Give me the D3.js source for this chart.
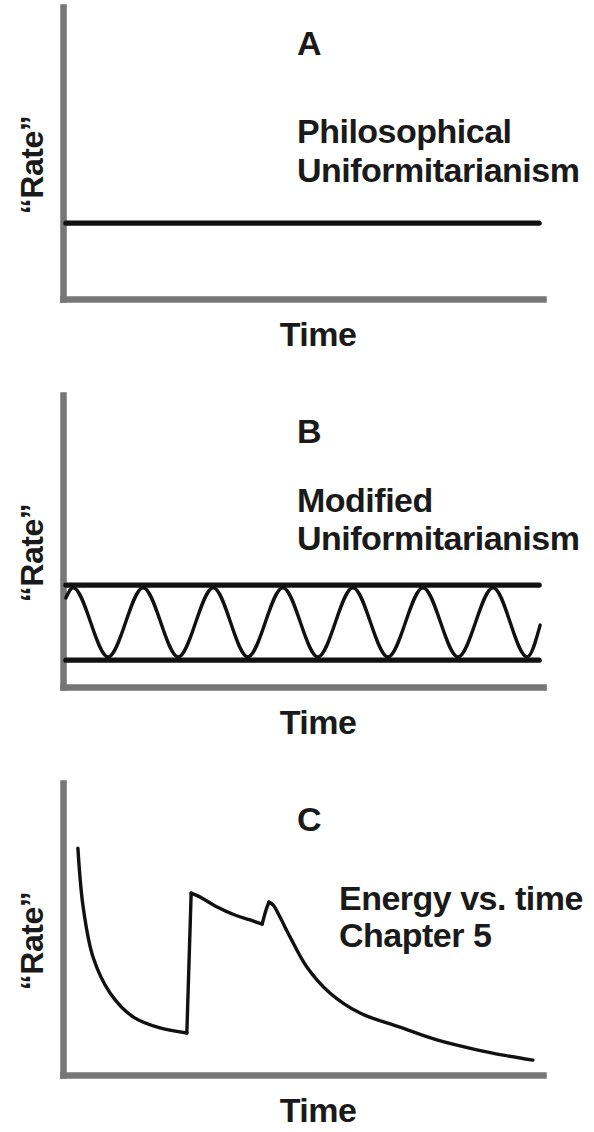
<!DOCTYPE html>
<meta charset="utf-8">
<style>

body {
  margin: 0;
  background: #fff;
}

text {
  font-family: "Liberation Sans", Arial, Helvetica, sans-serif;
  font-weight: bold;
  font-size: 34px;
  letter-spacing: -0.5px;
  fill: #1a1a1a;
}

.axis .domain {
  stroke: #767676;
  stroke-width: 6.5px;
  stroke-linecap: square;
}

.line {
  fill: none;
  stroke: #111;
  stroke-linejoin: round;
  stroke-linecap: round;
}

</style>
<body>
<script src="https://d3js.org/d3.v7.min.js"></script>
<script>

// panel labels and captions
const panelLetters = ["A", "B", "C"];
const panelCaptions = [
  ["Philosophical", "Uniformitarianism"],
  ["Modified", "Uniformitarianism"],
  ["Energy vs. time", "Chapter 5"]
];
const xLabel = "Time";
const yLabel = "\u201CRate\u201D";

// A: constant rate
const flatRate = [{t: 0.6, r: 26}, {t: 99.2, r: 26}];

// B: oscillation inside two bounds
const bandUpper = [{t: 0.6, r: 34.9}, {t: 99.2, r: 34.9}];
const bandLower = [{t: 0.6, r: 9.2}, {t: 99.2, r: 9.2}];
const oscillation = [
  {t: 0.6, r: 30.5}, {t: 2.1, r: 34}, {t: 9.4, r: 10.3}, {t: 16.7, r: 34},
  {t: 24.0, r: 10.3}, {t: 31.3, r: 34}, {t: 38.5, r: 10.3}, {t: 45.8, r: 34},
  {t: 53.1, r: 10.3}, {t: 60.4, r: 34}, {t: 67.7, r: 10.3}, {t: 75.0, r: 34},
  {t: 82.3, r: 10.3}, {t: 89.6, r: 34}, {t: 96.7, r: 10.3}, {t: 99.4, r: 21.2}
];

// C: energy vs time, split where the curve has sharp corners
const energyDecay1 = [
  {t: 3.1, r: 77.7}, {t: 4.2, r: 57.5}, {t: 6.25, r: 40.4}, {t: 9.8, r: 28.1},
  {t: 14.6, r: 19.9}, {t: 20.2, r: 16.1}, {t: 25.8, r: 14.4}
];
const energyJump = [{t: 25.8, r: 14.4}, {t: 26.7, r: 62.3}];
const energyDecay2 = [
  {t: 26.7, r: 62.3}, {t: 28.5, r: 61.0}, {t: 31.7, r: 57.9}, {t: 35.8, r: 54.8},
  {t: 39.0, r: 53.1}, {t: 41.5, r: 51.7}
];
const energyBump = [{t: 41.5, r: 51.7}, {t: 42.3, r: 56.5}, {t: 42.9, r: 59.2}];
const energyDecay3 = [
  {t: 42.9, r: 59.2}, {t: 43.8, r: 58.2}, {t: 45.2, r: 54.1}, {t: 47.3, r: 47.3},
  {t: 50.8, r: 37.0}, {t: 55.6, r: 28.1}, {t: 61.9, r: 21.2}, {t: 70.2, r: 16.4},
  {t: 77.9, r: 12.0}, {t: 86.25, r: 8.6}, {t: 91.7, r: 6.8}, {t: 97.9, r: 5.1}
];

const width = 594;
const height = 1132;
const panelStep = 388;

const xScale = d3.scaleLinear().domain([0, 100]).range([63, 543]);
const yScale = d3.scaleLinear().domain([0, 100]).range([299, 7]);

const line = d3.line()
    .x(d => xScale(d.t))
    .y(d => yScale(d.r))
    .curve(d3.curveMonotoneX);

const smooth = d3.line()
    .x(d => xScale(d.t))
    .y(d => yScale(d.r))
    .curve(d3.curveCatmullRom.alpha(0.5));

const svg = d3.select("body").append("svg")
    .attr("width", width)
    .attr("height", height);

const panels = [
  [{data: flatRate, w: 5.2, gen: line}],
  [{data: bandUpper, w: 5.2, gen: line}, {data: bandLower, w: 5.2, gen: line},
   {data: oscillation, w: 3.4, gen: line}],
  [{data: energyDecay1, w: 3.4, gen: smooth}, {data: energyJump, w: 3.4, gen: line},
   {data: energyDecay2, w: 3.4, gen: smooth}, {data: energyBump, w: 3.4, gen: smooth},
   {data: energyDecay3, w: 3.4, gen: smooth}]
];

const captionX = [297, 297, 339];
const captionY = [[143, 182], [124, 162], [134, 171]];

panels.forEach((series, i) => {
  const g = svg.append("g")
      .attr("transform", `translate(0, ${i * panelStep})`);

  g.append("g")
      .attr("class", "axis")
      .attr("transform", `translate(0, ${yScale(0)})`)
      .call(d3.axisBottom(xScale).tickValues([]).tickSizeOuter(0));

  g.append("g")
      .attr("class", "axis")
      .attr("transform", `translate(${xScale(0)}, 0)`)
      .call(d3.axisLeft(yScale).tickValues([]).tickSizeOuter(0));

  g.selectAll(".line")
      .data(series)
    .enter().append("path")
      .attr("class", "line")
      .attr("d", d => d.gen(d.data))
      .style("stroke-width", d => d.w);

  g.append("text")
      .attr("x", 297)
      .attr("y", 55)
      .text(panelLetters[i]);

  g.selectAll(".caption")
      .data(panelCaptions[i])
    .enter().append("text")
      .attr("class", "caption")
      .attr("x", captionX[i])
      .attr("y", (d, j) => captionY[i][j])
      .text(d => d);

  g.append("text")
      .attr("x", 318)
      .attr("y", 346)
      .attr("text-anchor", "middle")
      .text(xLabel);

  g.append("text")
      .attr("transform", `translate(43, ${yScale(0) - 134}) rotate(-90)`)
      .attr("text-anchor", "middle")
      .style("font-size", "32px")
      .text(yLabel);
});

</script>
